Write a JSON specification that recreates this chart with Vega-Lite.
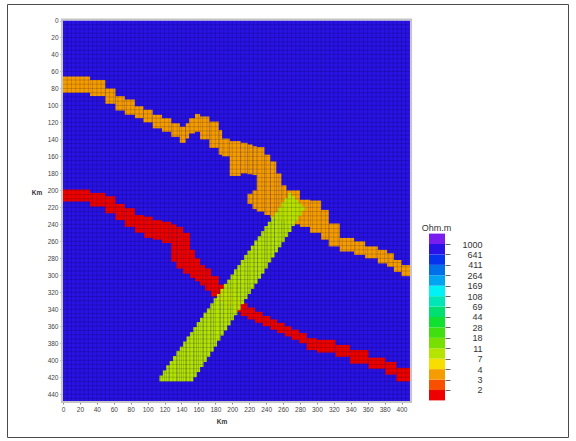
{
  "$schema": "https://vega.github.io/schema/vega-lite/v6.json",
  "width": 561,
  "height": 433,
  "autosize": "none",
  "padding": {"left": 7, "top": 4, "right": 8, "bottom": 4},
  "background": "white",
  "config": {"view": {"stroke": "#4a4a4a", "strokeWidth": 1}, "font": "Liberation Sans"},
  "datasets": {
    "cells": [
      {"x0": 0, "x1": 410, "y0": 0, "y1": 448, "ohm": 800},
      {"x0": 0, "x1": 32, "y0": 66, "y1": 85, "ohm": 3.5},
      {"x0": 32, "x1": 50, "y0": 70, "y1": 89, "ohm": 3.5},
      {"x0": 50, "x1": 62, "y0": 80, "y1": 98, "ohm": 3.5},
      {"x0": 62, "x1": 73, "y0": 89, "y1": 106, "ohm": 3.5},
      {"x0": 73, "x1": 85, "y0": 93, "y1": 111, "ohm": 3.5},
      {"x0": 85, "x1": 95, "y0": 101, "y1": 115, "ohm": 3.5},
      {"x0": 95, "x1": 106, "y0": 105, "y1": 120, "ohm": 3.5},
      {"x0": 106, "x1": 117, "y0": 111, "y1": 127, "ohm": 3.5},
      {"x0": 117, "x1": 128, "y0": 115, "y1": 131, "ohm": 3.5},
      {"x0": 128, "x1": 138, "y0": 121, "y1": 137, "ohm": 3.5},
      {"x0": 138, "x1": 145, "y0": 125, "y1": 144, "ohm": 3.5},
      {"x0": 145, "x1": 149, "y0": 121, "y1": 139, "ohm": 3.5},
      {"x0": 149, "x1": 156, "y0": 115, "y1": 133, "ohm": 3.5},
      {"x0": 156, "x1": 162, "y0": 110, "y1": 131, "ohm": 3.5},
      {"x0": 162, "x1": 173, "y0": 113, "y1": 140, "ohm": 3.5},
      {"x0": 173, "x1": 184, "y0": 119, "y1": 150, "ohm": 3.5},
      {"x0": 184, "x1": 188, "y0": 129, "y1": 158, "ohm": 3.5},
      {"x0": 188, "x1": 197, "y0": 139, "y1": 160, "ohm": 3.5},
      {"x0": 197, "x1": 210, "y0": 142, "y1": 183, "ohm": 3.5},
      {"x0": 210, "x1": 218, "y0": 144, "y1": 180, "ohm": 3.5},
      {"x0": 218, "x1": 224, "y0": 146, "y1": 181, "ohm": 3.5},
      {"x0": 218, "x1": 224, "y0": 204, "y1": 216, "ohm": 3.5},
      {"x0": 224, "x1": 229, "y0": 148, "y1": 182, "ohm": 3.5},
      {"x0": 224, "x1": 229, "y0": 200, "y1": 222, "ohm": 3.5},
      {"x0": 229, "x1": 238, "y0": 149, "y1": 225, "ohm": 3.5},
      {"x0": 238, "x1": 245, "y0": 158, "y1": 229, "ohm": 3.5},
      {"x0": 245, "x1": 252, "y0": 166, "y1": 232, "ohm": 3.5},
      {"x0": 252, "x1": 258, "y0": 180, "y1": 234, "ohm": 3.5},
      {"x0": 258, "x1": 264, "y0": 194, "y1": 236, "ohm": 3.5},
      {"x0": 264, "x1": 280, "y0": 200, "y1": 240, "ohm": 3.5},
      {"x0": 280, "x1": 292, "y0": 211, "y1": 243, "ohm": 3.5},
      {"x0": 292, "x1": 305, "y0": 212, "y1": 250, "ohm": 3.5},
      {"x0": 305, "x1": 314, "y0": 223, "y1": 258, "ohm": 3.5},
      {"x0": 314, "x1": 327, "y0": 239, "y1": 266, "ohm": 3.5},
      {"x0": 327, "x1": 344, "y0": 256, "y1": 272, "ohm": 3.5},
      {"x0": 344, "x1": 357, "y0": 260, "y1": 276, "ohm": 3.5},
      {"x0": 357, "x1": 372, "y0": 266, "y1": 280, "ohm": 3.5},
      {"x0": 372, "x1": 383, "y0": 270, "y1": 286, "ohm": 3.5},
      {"x0": 383, "x1": 391, "y0": 274, "y1": 290, "ohm": 3.5},
      {"x0": 391, "x1": 400, "y0": 282, "y1": 296, "ohm": 3.5},
      {"x0": 400, "x1": 410, "y0": 288, "y1": 301, "ohm": 3.5},
      {"x0": 0, "x1": 32, "y0": 199, "y1": 213, "ohm": 1.5},
      {"x0": 32, "x1": 50, "y0": 203, "y1": 219, "ohm": 1.5},
      {"x0": 50, "x1": 62, "y0": 207, "y1": 227, "ohm": 1.5},
      {"x0": 62, "x1": 73, "y0": 216, "y1": 235, "ohm": 1.5},
      {"x0": 73, "x1": 85, "y0": 221, "y1": 243, "ohm": 1.5},
      {"x0": 85, "x1": 96, "y0": 229, "y1": 250, "ohm": 1.5},
      {"x0": 96, "x1": 106, "y0": 231, "y1": 256, "ohm": 1.5},
      {"x0": 106, "x1": 117, "y0": 235, "y1": 258, "ohm": 1.5},
      {"x0": 117, "x1": 128, "y0": 237, "y1": 262, "ohm": 1.5},
      {"x0": 128, "x1": 134, "y0": 240, "y1": 284, "ohm": 1.5},
      {"x0": 134, "x1": 142, "y0": 243, "y1": 292, "ohm": 1.5},
      {"x0": 142, "x1": 150, "y0": 250, "y1": 298, "ohm": 1.5},
      {"x0": 150, "x1": 156, "y0": 270, "y1": 303, "ohm": 1.5},
      {"x0": 156, "x1": 162, "y0": 280, "y1": 307, "ohm": 1.5},
      {"x0": 162, "x1": 168, "y0": 288, "y1": 312, "ohm": 1.5},
      {"x0": 168, "x1": 175, "y0": 292, "y1": 318, "ohm": 1.5},
      {"x0": 175, "x1": 184, "y0": 301, "y1": 325, "ohm": 1.5},
      {"x0": 184, "x1": 192, "y0": 311, "y1": 331, "ohm": 1.5},
      {"x0": 192, "x1": 201, "y0": 317, "y1": 336, "ohm": 1.5},
      {"x0": 201, "x1": 210, "y0": 328, "y1": 343, "ohm": 1.5},
      {"x0": 210, "x1": 218, "y0": 333, "y1": 348, "ohm": 1.5},
      {"x0": 218, "x1": 227, "y0": 338, "y1": 352, "ohm": 1.5},
      {"x0": 227, "x1": 236, "y0": 343, "y1": 356, "ohm": 1.5},
      {"x0": 236, "x1": 245, "y0": 348, "y1": 360, "ohm": 1.5},
      {"x0": 245, "x1": 253, "y0": 352, "y1": 364, "ohm": 1.5},
      {"x0": 253, "x1": 262, "y0": 356, "y1": 368, "ohm": 1.5},
      {"x0": 262, "x1": 270, "y0": 360, "y1": 372, "ohm": 1.5},
      {"x0": 270, "x1": 279, "y0": 364, "y1": 376, "ohm": 1.5},
      {"x0": 279, "x1": 288, "y0": 368, "y1": 380, "ohm": 1.5},
      {"x0": 288, "x1": 300, "y0": 374, "y1": 388, "ohm": 1.5},
      {"x0": 300, "x1": 322, "y0": 376, "y1": 391, "ohm": 1.5},
      {"x0": 322, "x1": 339, "y0": 382, "y1": 396, "ohm": 1.5},
      {"x0": 339, "x1": 361, "y0": 388, "y1": 404, "ohm": 1.5},
      {"x0": 361, "x1": 381, "y0": 397, "y1": 410, "ohm": 1.5},
      {"x0": 381, "x1": 394, "y0": 402, "y1": 417, "ohm": 1.5},
      {"x0": 394, "x1": 410, "y0": 409, "y1": 425, "ohm": 1.5},
      {"x0": 114, "x1": 118, "y0": 418, "y1": 425, "ohm": 9},
      {"x0": 118, "x1": 122, "y0": 412, "y1": 425, "ohm": 9},
      {"x0": 122, "x1": 126, "y0": 406, "y1": 425, "ohm": 9},
      {"x0": 126, "x1": 130, "y0": 401, "y1": 425, "ohm": 9},
      {"x0": 130, "x1": 134, "y0": 395, "y1": 425, "ohm": 9},
      {"x0": 134, "x1": 138, "y0": 389, "y1": 425, "ohm": 9},
      {"x0": 138, "x1": 142, "y0": 384, "y1": 425, "ohm": 9},
      {"x0": 142, "x1": 146, "y0": 378, "y1": 425, "ohm": 9},
      {"x0": 146, "x1": 150, "y0": 372, "y1": 425, "ohm": 9},
      {"x0": 150, "x1": 154, "y0": 367, "y1": 425, "ohm": 9},
      {"x0": 154, "x1": 158, "y0": 361, "y1": 420, "ohm": 9},
      {"x0": 158, "x1": 162, "y0": 355, "y1": 414, "ohm": 9},
      {"x0": 162, "x1": 166, "y0": 350, "y1": 408, "ohm": 9},
      {"x0": 166, "x1": 170, "y0": 344, "y1": 402, "ohm": 9},
      {"x0": 170, "x1": 174, "y0": 339, "y1": 396, "ohm": 9},
      {"x0": 174, "x1": 178, "y0": 333, "y1": 390, "ohm": 9},
      {"x0": 178, "x1": 182, "y0": 327, "y1": 384, "ohm": 9},
      {"x0": 182, "x1": 186, "y0": 322, "y1": 377, "ohm": 9},
      {"x0": 186, "x1": 190, "y0": 316, "y1": 371, "ohm": 9},
      {"x0": 190, "x1": 194, "y0": 310, "y1": 365, "ohm": 9},
      {"x0": 194, "x1": 198, "y0": 305, "y1": 359, "ohm": 9},
      {"x0": 198, "x1": 202, "y0": 299, "y1": 353, "ohm": 9},
      {"x0": 202, "x1": 206, "y0": 293, "y1": 347, "ohm": 9},
      {"x0": 206, "x1": 210, "y0": 288, "y1": 341, "ohm": 9},
      {"x0": 210, "x1": 214, "y0": 282, "y1": 334, "ohm": 9},
      {"x0": 214, "x1": 218, "y0": 276, "y1": 328, "ohm": 9},
      {"x0": 218, "x1": 222, "y0": 271, "y1": 322, "ohm": 9},
      {"x0": 222, "x1": 226, "y0": 265, "y1": 316, "ohm": 9},
      {"x0": 226, "x1": 230, "y0": 259, "y1": 310, "ohm": 9},
      {"x0": 230, "x1": 234, "y0": 254, "y1": 304, "ohm": 9},
      {"x0": 234, "x1": 238, "y0": 248, "y1": 298, "ohm": 9},
      {"x0": 238, "x1": 242, "y0": 242, "y1": 292, "ohm": 9},
      {"x0": 242, "x1": 246, "y0": 237, "y1": 285, "ohm": 9},
      {"x0": 246, "x1": 250, "y0": 231, "y1": 279, "ohm": 9},
      {"x0": 250, "x1": 254, "y0": 226, "y1": 273, "ohm": 9},
      {"x0": 254, "x1": 258, "y0": 220, "y1": 267, "ohm": 9},
      {"x0": 258, "x1": 262, "y0": 214, "y1": 261, "ohm": 9},
      {"x0": 262, "x1": 266, "y0": 209, "y1": 255, "ohm": 9},
      {"x0": 266, "x1": 270, "y0": 203, "y1": 249, "ohm": 9},
      {"x0": 270, "x1": 274, "y0": 207, "y1": 242, "ohm": 9},
      {"x0": 274, "x1": 278, "y0": 211, "y1": 236, "ohm": 9},
      {"x0": 278, "x1": 282, "y0": 215, "y1": 230, "ohm": 9},
      {"x0": 282, "x1": 286, "y0": 219, "y1": 224, "ohm": 9}
    ],
    "meshx": [
      {"gx": 5}, {"gx": 10}, {"gx": 15}, {"gx": 20}, {"gx": 25}, {"gx": 30}, {"gx": 35}, {"gx": 40}, {"gx": 45}, {"gx": 50},
      {"gx": 55}, {"gx": 60}, {"gx": 65}, {"gx": 70}, {"gx": 75}, {"gx": 80}, {"gx": 85}, {"gx": 90}, {"gx": 95}, {"gx": 100},
      {"gx": 105}, {"gx": 110}, {"gx": 115}, {"gx": 120}, {"gx": 125}, {"gx": 130}, {"gx": 135}, {"gx": 140}, {"gx": 145}, {"gx": 150},
      {"gx": 155}, {"gx": 160}, {"gx": 165}, {"gx": 170}, {"gx": 175}, {"gx": 180}, {"gx": 185}, {"gx": 190}, {"gx": 195}, {"gx": 200},
      {"gx": 205}, {"gx": 210}, {"gx": 215}, {"gx": 220}, {"gx": 225}, {"gx": 230}, {"gx": 235}, {"gx": 240}, {"gx": 245}, {"gx": 250},
      {"gx": 255}, {"gx": 260}, {"gx": 265}, {"gx": 270}, {"gx": 275}, {"gx": 280}, {"gx": 285}, {"gx": 290}, {"gx": 295}, {"gx": 300},
      {"gx": 305}, {"gx": 310}, {"gx": 315}, {"gx": 320}, {"gx": 325}, {"gx": 330}, {"gx": 335}, {"gx": 340}, {"gx": 345}, {"gx": 350},
      {"gx": 355}, {"gx": 360}, {"gx": 365}, {"gx": 370}, {"gx": 375}, {"gx": 380}, {"gx": 385}, {"gx": 390}, {"gx": 395}, {"gx": 400},
      {"gx": 405}
    ],
    "meshy": [
      {"gy": 5}, {"gy": 10}, {"gy": 15}, {"gy": 20}, {"gy": 25}, {"gy": 30}, {"gy": 35}, {"gy": 40}, {"gy": 45}, {"gy": 50},
      {"gy": 55}, {"gy": 60}, {"gy": 65}, {"gy": 70}, {"gy": 75}, {"gy": 80}, {"gy": 85}, {"gy": 90}, {"gy": 95}, {"gy": 100},
      {"gy": 105}, {"gy": 110}, {"gy": 115}, {"gy": 120}, {"gy": 125}, {"gy": 130}, {"gy": 135}, {"gy": 140}, {"gy": 145}, {"gy": 150},
      {"gy": 155}, {"gy": 160}, {"gy": 165}, {"gy": 170}, {"gy": 175}, {"gy": 180}, {"gy": 185}, {"gy": 190}, {"gy": 195}, {"gy": 200},
      {"gy": 205}, {"gy": 210}, {"gy": 215}, {"gy": 220}, {"gy": 225}, {"gy": 230}, {"gy": 235}, {"gy": 240}, {"gy": 245}, {"gy": 250},
      {"gy": 255}, {"gy": 260}, {"gy": 265}, {"gy": 270}, {"gy": 275}, {"gy": 280}, {"gy": 285}, {"gy": 290}, {"gy": 295}, {"gy": 300},
      {"gy": 305}, {"gy": 310}, {"gy": 315}, {"gy": 320}, {"gy": 325}, {"gy": 330}, {"gy": 335}, {"gy": 340}, {"gy": 345}, {"gy": 350},
      {"gy": 355}, {"gy": 360}, {"gy": 365}, {"gy": 370}, {"gy": 375}, {"gy": 380}, {"gy": 385}, {"gy": 390}, {"gy": 395}, {"gy": 400},
      {"gy": 405}, {"gy": 410}, {"gy": 415}, {"gy": 420}, {"gy": 425}, {"gy": 430}, {"gy": 435}, {"gy": 440}, {"gy": 445}
    ],
    "legend": [
      {"i": 0, "i2": 1, "ohm": 1.5},
      {"i": 1, "i2": 2, "ohm": 2.5},
      {"i": 2, "i2": 3, "ohm": 3.5},
      {"i": 3, "i2": 4, "ohm": 5.5},
      {"i": 4, "i2": 5, "ohm": 9},
      {"i": 5, "i2": 6, "ohm": 14},
      {"i": 6, "i2": 7, "ohm": 22},
      {"i": 7, "i2": 8, "ohm": 35},
      {"i": 8, "i2": 9, "ohm": 55},
      {"i": 9, "i2": 10, "ohm": 88},
      {"i": 10, "i2": 11, "ohm": 135},
      {"i": 11, "i2": 12, "ohm": 210},
      {"i": 12, "i2": 13, "ohm": 330},
      {"i": 13, "i2": 14, "ohm": 520},
      {"i": 14, "i2": 15, "ohm": 800},
      {"i": 15, "i2": 16, "ohm": 1500}
    ]
  },
  "layer": [
    {
      "data": {"name": "cells"},
      "mark": {"type": "rect"},
      "encoding": {
        "x": {"field": "x0", "type": "quantitative",
          "scale": {"domain": [-66.17, 596.72], "nice": false, "zero": false},
          "axis": {"values": [0, 20, 40, 60, 80, 100, 120, 140, 160, 180, 200, 220, 240, 260, 280, 300, 320, 340, 360, 380, 400],
            "orient": "bottom", "offset": -36, "domain": false, "grid": false, "ticks": true, "tickSize": 3, "tickColor": "#888",
            "labels": true, "labelFontSize": 6.5, "labelColor": "#444", "labelPadding": 2, "labelOverlap": false, "labelFlush": false, "title": null}},
        "x2": {"field": "x1"},
        "y": {"field": "y0", "type": "quantitative",
          "scale": {"domain": [-19.43, 490.4], "nice": false, "zero": false, "reverse": true},
          "axis": {"values": [0, 20, 40, 60, 80, 100, 120, 140, 160, 180, 200, 220, 240, 260, 280, 300, 320, 340, 360, 380, 400, 420, 440],
            "orient": "left", "offset": -56, "domain": false, "grid": false, "ticks": true, "tickSize": 3, "tickColor": "#888",
            "labels": true, "labelFontSize": 6.5, "labelColor": "#444", "labelPadding": 2, "labelOverlap": false, "labelFlush": false, "title": null}},
        "y2": {"field": "y1"},
        "color": {"field": "ohm", "type": "quantitative",
          "scale": {"type": "threshold", "domain": [2, 3, 4, 7, 11, 18, 28, 44, 69, 108, 169, 264, 411, 641, 1000],
            "range": ["#ee0000", "#f65000", "#f59c00", "#f6df00", "#b4e400", "#78e000", "#40e010", "#10e030", "#00e070", "#00e6b6", "#00f2f6", "#00a4f0", "#0070e8", "#0634ee", "#2812e6", "#7a1ef0"]},
          "legend": null}
      }
    },
    {
      "data": {"name": "meshx"},
      "mark": {"type": "rule", "color": "#000000", "opacity": 0.22, "strokeWidth": 0.8},
      "encoding": {
        "x": {"field": "gx", "type": "quantitative", "scale": {"domain": [-66.17, 596.72], "nice": false, "zero": false}, "axis": null},
        "y": {"datum": 0, "type": "quantitative", "scale": {"domain": [-19.43, 490.4], "nice": false, "zero": false, "reverse": true}, "axis": null},
        "y2": {"datum": 448}
      }
    },
    {
      "data": {"name": "meshy"},
      "mark": {"type": "rule", "color": "#000000", "opacity": 0.22, "strokeWidth": 0.8},
      "encoding": {
        "y": {"field": "gy", "type": "quantitative", "scale": {"domain": [-19.43, 490.4], "nice": false, "zero": false, "reverse": true}, "axis": null},
        "x": {"datum": 0, "type": "quantitative", "scale": {"domain": [-66.17, 596.72], "nice": false, "zero": false}, "axis": null},
        "x2": {"datum": 410}
      }
    },
    {
      "data": {"values": [{"frame": "plot"}]},
      "mark": {"type": "rect", "filled": false, "stroke": "#c4c4c4", "strokeWidth": 2},
      "encoding": {
        "x": {"datum": -1.3, "type": "quantitative", "scale": {"domain": [-66.17, 596.72], "nice": false, "zero": false}, "axis": null},
        "x2": {"datum": 411.3},
        "y": {"datum": -1.3, "type": "quantitative", "scale": {"domain": [-19.43, 490.4], "nice": false, "zero": false, "reverse": true}, "axis": null},
        "y2": {"datum": 449.3}
      }
    },
    {
      "data": {"values": [{"label": "Km"}]},
      "mark": {"type": "text", "fontSize": 6.5, "fontWeight": "bold", "color": "#333333", "align": "center", "baseline": "middle"},
      "encoding": {
        "x": {"datum": -30.7, "type": "quantitative", "scale": {"domain": [-66.17, 596.72], "nice": false, "zero": false}, "axis": null},
        "y": {"datum": 203, "type": "quantitative", "scale": {"domain": [-19.43, 490.4], "nice": false, "zero": false, "reverse": true}, "axis": null},
        "text": {"field": "label"}
      }
    },
    {
      "data": {"values": [{"label": "Km"}]},
      "mark": {"type": "text", "fontSize": 6.5, "fontWeight": "bold", "color": "#333333", "align": "center", "baseline": "middle"},
      "encoding": {
        "x": {"datum": 188, "type": "quantitative", "scale": {"domain": [-66.17, 596.72], "nice": false, "zero": false}, "axis": null},
        "y": {"datum": 472.4, "type": "quantitative", "scale": {"domain": [-19.43, 490.4], "nice": false, "zero": false, "reverse": true}, "axis": null},
        "text": {"field": "label"}
      }
    },
    {
      "data": {"name": "legend"},
      "mark": {"type": "rect"},
      "encoding": {
        "x": {"datum": 432.5, "type": "quantitative", "scale": {"domain": [-66.17, 596.72], "nice": false, "zero": false}, "axis": null},
        "x2": {"datum": 451.4},
        "y": {"field": "i", "type": "quantitative",
          "scale": {"domain": [-3.511, 38.024], "nice": false, "zero": false},
          "axis": {"values": [1, 2, 3, 4, 5, 6, 7, 8, 9, 10, 11, 12, 13, 14, 15], "orient": "right", "offset": -123,
            "labelExpr": "['','2','3','4','7','11','18','28','44','69','108','169','264','411','641','1000'][datum.value]",
            "domain": false, "grid": false, "ticks": true, "tickSize": 5, "tickColor": "#666", "labels": true, "labelFontSize": 9, "labelColor": "#333",
            "labelAlign": "right", "labelPadding": 32, "labelBaseline": "middle", "labelOverlap": false, "labelFlush": false, "title": null}},
        "y2": {"field": "i2"},
        "color": {"field": "ohm", "type": "quantitative",
          "scale": {"type": "threshold", "domain": [2, 3, 4, 7, 11, 18, 28, 44, 69, 108, 169, 264, 411, 641, 1000],
            "range": ["#ee0000", "#f65000", "#f59c00", "#f6df00", "#b4e400", "#78e000", "#40e010", "#10e030", "#00e070", "#00e6b6", "#00f2f6", "#00a4f0", "#0070e8", "#0634ee", "#2812e6", "#7a1ef0"]},
          "legend": null}
      }
    },
    {
      "data": {"values": [{"label": "Ohm.m"}]},
      "mark": {"type": "text", "fontSize": 9, "color": "#333333", "align": "center", "baseline": "middle"},
      "encoding": {
        "x": {"datum": 441.3, "type": "quantitative", "scale": {"domain": [-66.17, 596.72], "nice": false, "zero": false}, "axis": null},
        "y": {"datum": 16.5, "type": "quantitative", "scale": {"domain": [-3.511, 38.024], "nice": false, "zero": false}, "axis": null},
        "text": {"field": "label"}
      }
    }
  ],
  "resolve": {"scale": {"x": "independent", "y": "independent"}}
}
